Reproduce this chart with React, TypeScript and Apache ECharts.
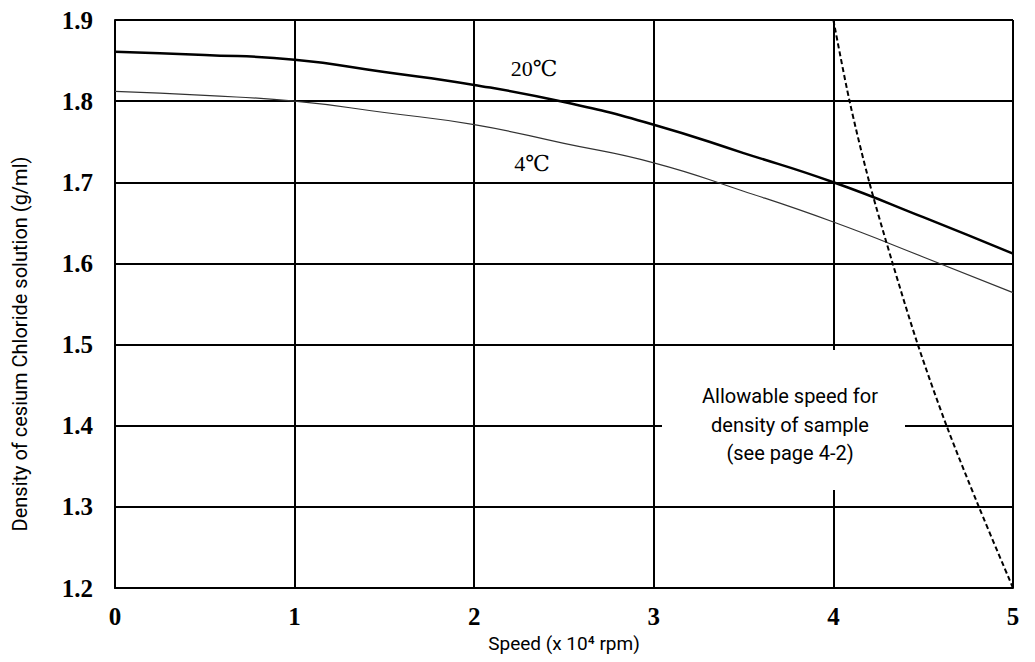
import React, { useEffect, useRef } from 'react';
import * as echarts from 'echarts';

const speeds = [0, 0.5, 1, 1.5, 2, 2.5, 3, 3.5, 4, 4.5, 5];
const density20C = [1.861, 1.857, 1.851, 1.836, 1.82, 1.799, 1.771, 1.736, 1.7, 1.657, 1.612];
const density4C = [1.812, 1.807, 1.8, 1.786, 1.771, 1.748, 1.724, 1.689, 1.651, 1.608, 1.564];
const limitSpeed = [4.0, 4.09, 4.2, 4.33, 4.47, 4.63, 4.81, 5.0];
const limitDensity = [1.9, 1.8, 1.7, 1.6, 1.5, 1.4, 1.3, 1.2];

const curveLabels = ['20℃', '4℃'];
const noteLines = ['Allowable speed for', 'density of sample', '(see page 4-2)'];
const xTitle = 'Speed (x 10⁴ rpm)';
const yTitle = 'Density of cesium Chloride solution (g/ml)';

const SANS = 'Roboto, sans-serif';
const SERIF = '"Liberation Serif", "DejaVu Serif", serif';

export default function App() {
  const ref = useRef<HTMLDivElement>(null);
  useEffect(() => {
    document.body.style.margin = '0';
    const chart = echarts.init(ref.current!, null, { renderer: 'svg' });
    const pair = (xs: number[], ys: number[]) => xs.map((x, i) => [x, ys[i]]);
    const axisCommon = {
      axisLine: { show: true, onZero: false, lineStyle: { color: '#000', width: 2 } },
      axisTick: { show: false },
      splitLine: { show: true, lineStyle: { color: '#000', width: 2 } },
    };
    chart.setOption({
      animation: false,
      backgroundColor: '#fff',
      grid: { left: 115, right: 22, top: 20, bottom: 74 },
      xAxis: {
        type: 'value',
        min: 0,
        max: 5,
        interval: 1,
        ...axisCommon,
        axisLabel: { color: '#000', fontFamily: SERIF, fontWeight: 'bold', fontSize: 25, margin: 16 },
        name: xTitle,
        nameLocation: 'middle',
        nameGap: 46,
        nameTextStyle: { color: '#000', fontFamily: SANS, fontSize: 19 },
      },
      yAxis: {
        type: 'value',
        min: 1.2,
        max: 1.9,
        interval: 0.1,
        ...axisCommon,
        axisLabel: {
          color: '#000',
          fontFamily: SERIF,
          fontWeight: 'bold',
          fontSize: 25,
          margin: 22,
          formatter: (v: number) => v.toFixed(1),
        },
      },
      series: [
        {
          type: 'line',
          data: pair(speeds, density20C),
          smooth: true,
          symbol: 'none',
          lineStyle: { color: '#000', width: 2.5 },
          z: 5,
        },
        {
          type: 'line',
          data: pair(speeds, density4C),
          smooth: true,
          symbol: 'none',
          lineStyle: { color: '#333', width: 1.2 },
          z: 5,
        },
        {
          type: 'line',
          data: pair(limitSpeed, limitDensity),
          smooth: 0.3,
          symbol: 'none',
          lineStyle: { color: '#000', width: 2, type: [5, 3] },
          z: 5,
        },
      ],
      graphic: [
        {
          type: 'rect',
          z: 10,
          shape: { x: 662, y: 350, width: 243, height: 140 },
          style: { fill: '#fff' },
        },
        ...noteLines.map((t, i) => ({
          type: 'text',
          z: 11,
          x: 790,
          y: 396 + i * 28.5,
          style: {
            text: t,
            fontFamily: SANS,
            fontSize: 20,
            fill: '#000',
            align: 'center',
            verticalAlign: 'middle',
          },
        })),
        {
          type: 'text',
          z: 11,
          x: 534,
          y: 68,
          style: { text: curveLabels[0], fontFamily: SERIF, fontSize: 22, fill: '#000', align: 'center', verticalAlign: 'middle' },
        },
        {
          type: 'text',
          z: 11,
          x: 532,
          y: 163,
          style: { text: curveLabels[1], fontFamily: SERIF, fontSize: 22, fill: '#000', align: 'center', verticalAlign: 'middle' },
        },
        {
          type: 'text',
          z: 11,
          x: 20,
          y: 344,
          rotation: Math.PI / 2,
          style: { text: yTitle, fontFamily: SANS, fontSize: 20, fill: '#000', align: 'center', verticalAlign: 'middle' },
        },
      ],
    });
    return () => chart.dispose();
  }, []);
  return <div ref={ref} style={{ width: 1035, height: 662 }} />;
}
